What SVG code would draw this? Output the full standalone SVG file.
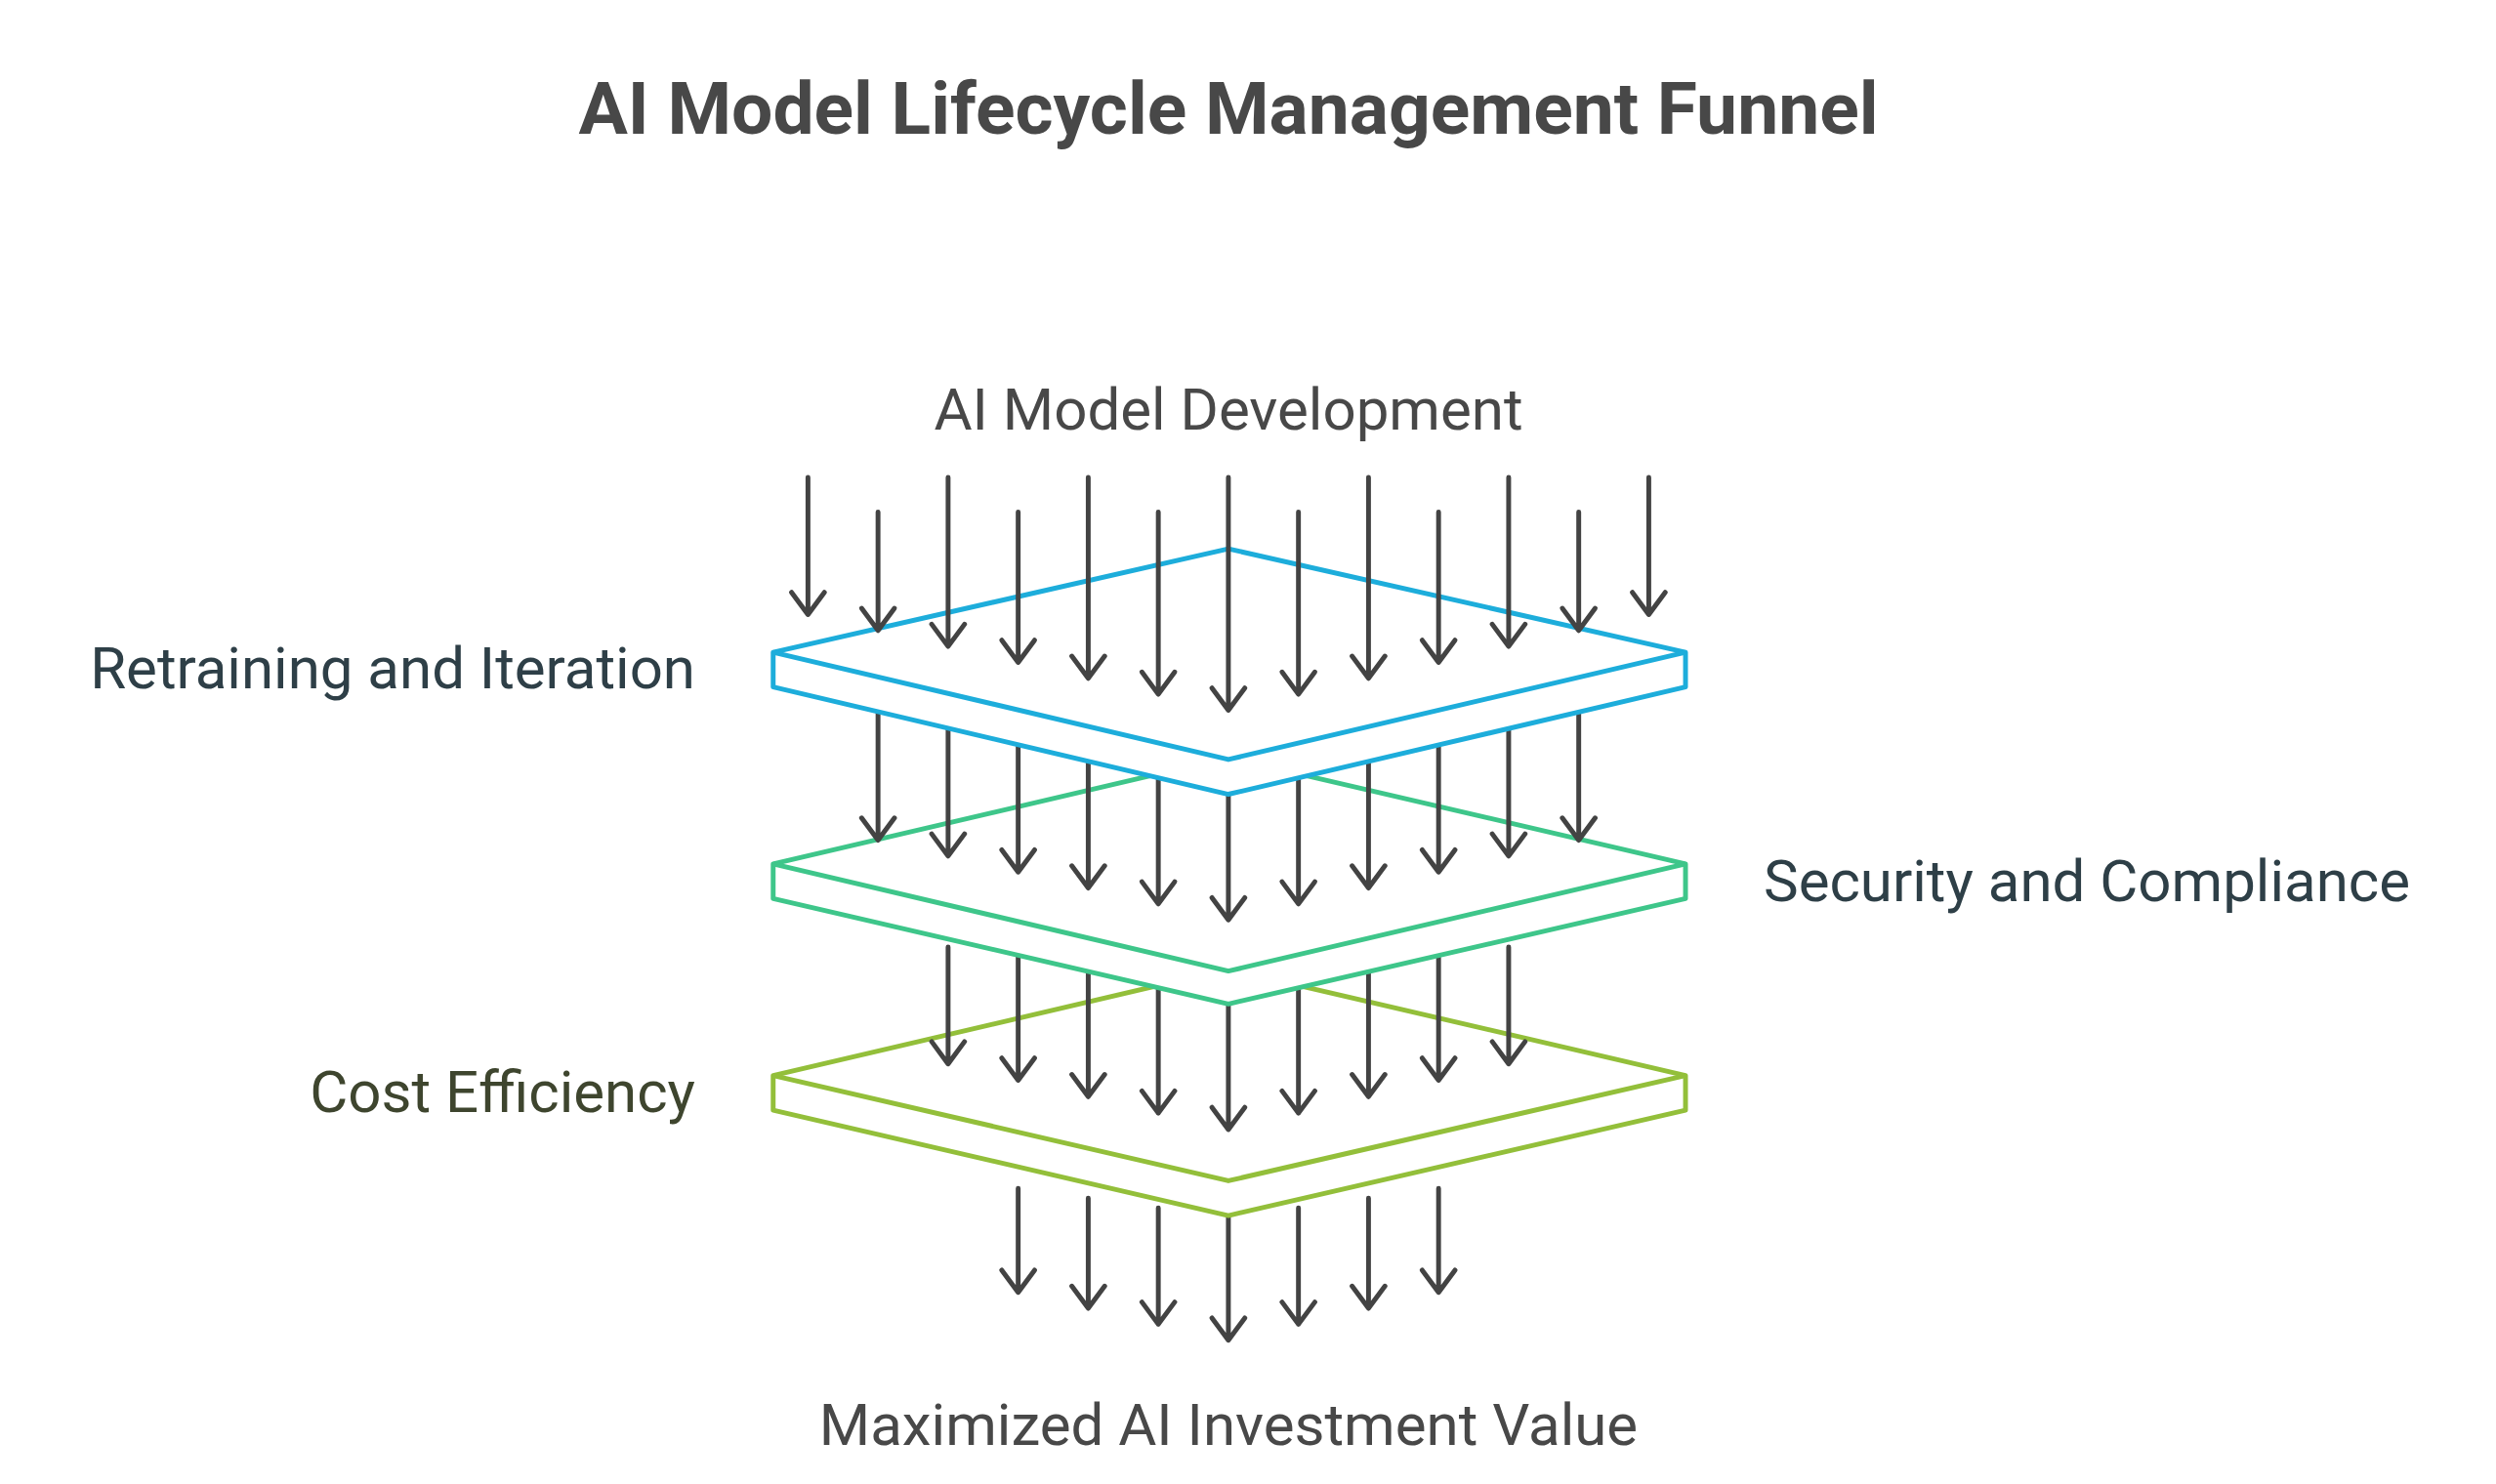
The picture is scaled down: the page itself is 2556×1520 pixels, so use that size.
<svg xmlns="http://www.w3.org/2000/svg" width="2556" height="1520" viewBox="0 0 2556 1520">
<style>
.t{font-family:Roboto,"Liberation Sans",sans-serif;font-size:60px;fill:#484848}
.a{stroke:#434343;stroke-width:5;fill:none;stroke-linecap:round;stroke-linejoin:round}
.p{fill:#fff;stroke-width:5;stroke-linejoin:round}
</style>
<rect width="2556" height="1520" fill="#fff"/>
<text x="1258" y="137" text-anchor="middle" class="t" style="font-size:75px;font-weight:bold">AI Model Lifecycle Management Funnel</text>
<text x="1258" y="440" text-anchor="middle" class="t">AI Model Development</text>
<text x="1258" y="1480" text-anchor="middle" class="t">Maximized AI Investment Value</text>
<g id="label-retraining"><text x="712" y="705" text-anchor="end" class="t" style="fill:#2E3F47">Retraining and Iteration</text></g>
<g id="label-security"><text x="1806" y="923" class="t" style="fill:#2E3F47">Security and Compliance</text></g>
<g id="label-cost"><text x="712" y="1139" text-anchor="end" class="t" style="fill:#3E452E">Cost Efficiency</text></g>
<g transform="scale(0.9897)">
<g id="connectors-row4" class="a">
<path d="M1053.5 1230V1337.5M1036.5 1314.5L1053.5 1337.5L1070.5 1314.5"/>
<path d="M1126 1240V1354M1109 1331L1126 1354L1143 1331"/>
<path d="M1198.5 1250V1370.5M1181.5 1347.5L1198.5 1370.5L1215.5 1347.5"/>
<path d="M1271 1260V1387M1254 1364L1271 1387L1288 1364"/>
<path d="M1343.5 1250V1370.5M1326.5 1347.5L1343.5 1370.5L1360.5 1347.5"/>
<path d="M1416 1240V1354M1399 1331L1416 1354L1433 1331"/>
<path d="M1488.5 1230V1337.5M1471.5 1314.5L1488.5 1337.5L1505.5 1314.5"/>
</g>
<g id="plate-cost" class="p" stroke="#93BF3A">
<path d="M800 1113L1271 1003L1744 1113V1149L1271 1258L800 1149Z"/>
<path d="M800 1113L1271 1222L1744 1113" fill="none"/>
</g>
<g id="connectors-row3" class="a">
<path d="M981 980V1101M964 1078L981 1101L998 1078"/>
<path d="M1053.5 990V1118M1036.5 1095L1053.5 1118L1070.5 1095"/>
<path d="M1126 1000V1135M1109 1112L1126 1135L1143 1112"/>
<path d="M1198.5 1010V1152M1181.5 1129L1198.5 1152L1215.5 1129"/>
<path d="M1271 1020V1169M1254 1146L1271 1169L1288 1146"/>
<path d="M1343.5 1010V1152M1326.5 1129L1343.5 1152L1360.5 1129"/>
<path d="M1416 1000V1135M1399 1112L1416 1135L1433 1112"/>
<path d="M1488.5 990V1118M1471.5 1095L1488.5 1118L1505.5 1095"/>
<path d="M1561 980V1101M1544 1078L1561 1101L1578 1078"/>
</g>
<g id="plate-security" class="p" stroke="#3EC68A">
<path d="M800 894L1271 784L1744 894V930L1271 1039L800 930Z"/>
<path d="M800 894L1271 1005L1744 894" fill="none"/>
</g>
<g id="connectors-row2" class="a">
<path d="M908.5 720V869.5M891.5 846.5L908.5 869.5L925.5 846.5"/>
<path d="M981 730V886M964 863L981 886L998 863"/>
<path d="M1053.5 750V902.5M1036.5 879.5L1053.5 902.5L1070.5 879.5"/>
<path d="M1126 770V919M1109 896L1126 919L1143 896"/>
<path d="M1198.5 790V935.5M1181.5 912.5L1198.5 935.5L1215.5 912.5"/>
<path d="M1271 800V952M1254 929L1271 952L1288 929"/>
<path d="M1343.5 790V935.5M1326.5 912.5L1343.5 935.5L1360.5 912.5"/>
<path d="M1416 770V919M1399 896L1416 919L1433 896"/>
<path d="M1488.5 750V902.5M1471.5 879.5L1488.5 902.5L1505.5 879.5"/>
<path d="M1561 730V886M1544 863L1561 886L1578 863"/>
<path d="M1633.5 720V869.5M1616.5 846.5L1633.5 869.5L1650.5 846.5"/>
</g>
<g id="plate-retraining" class="p" stroke="#1DADDB">
<path d="M800 675L1271 568L1744 675V711L1271 822L800 711Z"/>
<path d="M800 675L1271 786L1744 675" fill="none"/>
</g>
<g id="connectors-row1" class="a">
<path d="M836 494V636M819 613L836 636L853 613"/>
<path d="M908.5 530V652.5M891.5 629.5L908.5 652.5L925.5 629.5"/>
<path d="M981 494V669M964 646L981 669L998 646"/>
<path d="M1053.5 530V685.5M1036.5 662.5L1053.5 685.5L1070.5 662.5"/>
<path d="M1126 494V702M1109 679L1126 702L1143 679"/>
<path d="M1198.5 530V718.5M1181.5 695.5L1198.5 718.5L1215.5 695.5"/>
<path d="M1271 494V735M1254 712L1271 735L1288 712"/>
<path d="M1343.5 530V718.5M1326.5 695.5L1343.5 718.5L1360.5 695.5"/>
<path d="M1416 494V702M1399 679L1416 702L1433 679"/>
<path d="M1488.5 530V685.5M1471.5 662.5L1488.5 685.5L1505.5 662.5"/>
<path d="M1561 494V669M1544 646L1561 669L1578 646"/>
<path d="M1633.5 530V652.5M1616.5 629.5L1633.5 652.5L1650.5 629.5"/>
<path d="M1706 494V636M1689 613L1706 636L1723 613"/>
</g>
</g>
</svg>
